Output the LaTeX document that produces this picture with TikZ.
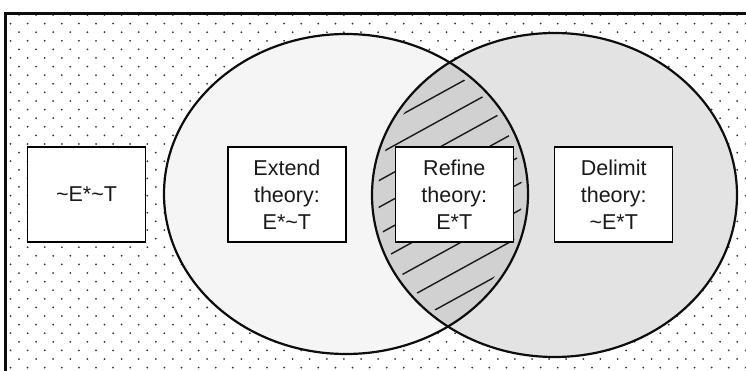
\documentclass[tikz,border=0pt]{standalone}
\usepackage{fontspec}
\setmainfont{Liberation Sans}
\usetikzlibrary{positioning}

\begin{document}
\begin{tikzpicture}[x=1pt, y=-1pt,
    box/.style={rectangle, draw=black, line width=1.4pt, fill=white,
        minimum width=118pt, minimum height=95pt, inner sep=0pt,
        font=\fontsize{21.5}{27}\selectfont, align=center, text=black!90},
    rim/.style={line width=2.2pt, black!95},
    hatch/.style={line width=1.4pt, black!90},
    dot/.style={fill=black!80},
]
\clip (0,0) rectangle (746,371);
% dotted background
\foreach \r in {0,...,42}{
  \pgfmathsetmacro{\yy}{15+8.6*\r}
  \pgfmathsetmacro{\xo}{mod(\r,2)==0 ? 19 : 10.5}
  \foreach \c in {0,...,43}
    \fill[dot] ({\xo+17.1*\c},\yy) circle[radius=1pt];
}

\coordinate (cE) at (346,194);
\coordinate (cD) at (554.5,195);
\fill[black!4] (cE) ellipse[x radius=182pt, y radius=160pt];
\fill[black!11] (cD) ellipse[x radius=182.5pt, y radius=162pt];

% overlap
\begin{scope}
  \clip (cE) ellipse[x radius=182pt, y radius=160pt];
  \clip (cD) ellipse[x radius=182.5pt, y radius=162pt];
  \fill[black!18] (300,0) rectangle (600,371);
\end{scope}
\begin{scope}
  \clip (cE) ellipse[x radius=176pt, y radius=154pt];
  \clip (cD) ellipse[x radius=176.5pt, y radius=156pt];
  \foreach \k in {-8,...,8}
    \draw[hatch] (360,{191+26.7*\k}) -- (540,{92+26.7*\k});
\end{scope}

\draw[rim] (cE) ellipse[x radius=182pt, y radius=160pt];
\draw[rim] (cD) ellipse[x radius=182.5pt, y radius=162pt];
\draw[rim] (5.5,13.5) rectangle (760,390);

\node[box] (NEG) at (86.5,194.5) {\textasciitilde E*\textasciitilde T};
\node[box, right=81pt of NEG] (EXT) {Extend\\theory:\\E*\textasciitilde T};
\node[box, right=48pt of EXT] (REF) {Refine\\theory:\\E*T};
\node[box, right=40pt of REF] (DEL) {Delimit\\theory:\\\textasciitilde E*T};
\end{tikzpicture}
\end{document}
